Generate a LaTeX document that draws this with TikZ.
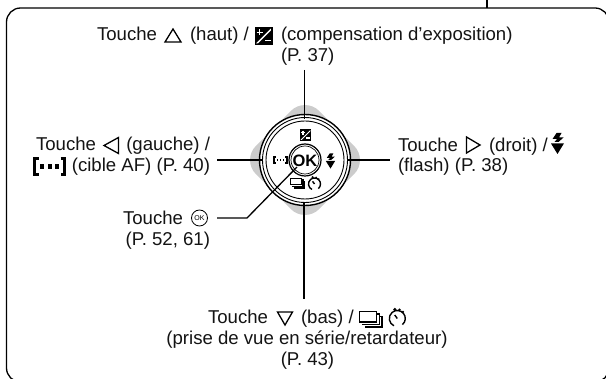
\documentclass[tikz,border=0pt]{standalone}
\usepackage{fontspec}
\setmainfont{Liberation Sans}
\begin{document}
\begin{tikzpicture}[x=1pt,y=-1pt,
  txt/.style={inner sep=0pt,outer sep=0pt,font=\fontsize{18.6}{20}\selectfont,text=black!92},
  lbl/.style={txt,anchor=base west},
  lblr/.style={txt,anchor=base east},
  lblc/.style={txt,anchor=base},
  conn/.style={line width=1.3pt,black},
  tri/.style={line width=1.3pt,draw=black,line join=miter},
  pics/evicon/.style={code={
    \fill[black] (-9,-9) rectangle (9,9);
    \fill[white] (-7.4,7.4) -- (7.4,-7.4) -- (7.4,-5.6) -- (-5.6,7.4) -- cycle;
    \draw[white,line width=1.5pt] (-7,-3.5) -- (-1,-3.5) (-4,-6.5) -- (-4,-0.5) (1.5,4.5) -- (7,4.5);
  }},
  pics/flashicon/.style={code={
    \fill[black] (-1,-10.5) -- (4,-10.5) -- (1.5,-6) -- (6,-6) -- (1,-1.5) -- (-3,-1.5) -- (-.5,-4.5) -- (-5,-4.5) -- cycle;
    \fill[black] (-6.5,0) -- (-1.5,0) -- (-1,0) -- (2,-.2) -- (6.5,-.2) -- (0,10.5) -- cycle;
  }},
  pics/bursticon/.style={code={
    \draw[black,line width=1.1pt,fill=white] (-13.5,-7.5) rectangle (3.5,3);
    \draw[black,line width=1.1pt] (3.5,-5) -- (6.5,-5) -- (6.5,5.5) -- (-11,5.5);
    \draw[black,line width=1.1pt] (6.5,-2.5) -- (9,-2.5) -- (9,8) -- (-8,8);
  }},
  pics/timericon/.style={code={
    \draw[black,line width=1.4pt] (50:8) arc (50:-245:8);
    \draw[black,line width=1.4pt] (0,0) -- (-2.6,-3.5);
    \fill[black] (-2.5,-9) circle (1.8);
    \fill[black] (5.6,-6.6) circle (1.3);
    \fill[black] (2.2,-8.8) circle (1.3);
  }},
  pics/bracketicon/.style={code={
    \draw[black,line width=2.2pt] (-11,-8) -- (-15,-8) -- (-15,8) -- (-11,8);
    \draw[black,line width=2.2pt] (11,-8) -- (15,-8) -- (15,8) -- (11,8);
    \foreach \i in {-7.5,0,7.5} \fill[black] (\i-2,-2.5) rectangle (\i+2,2.5);
  }}
]
\useasboundingbox (0,0) rectangle (606,379);
\fill[white] (0,0) rectangle (606,379);

% frame
\coordinate (tickA) at (487,0);
\coordinate (tickB) at (487,8);
\draw[line width=1.3pt,rounded corners=14pt] (6.5,8) rectangle (609,382);
\draw[conn] (tickA) -- (tickB);

% dial
\coordinate (dial) at (305,160);
\foreach \dx/\dy in {29.3/0,0/-29.3,-29.3/0,0/29.3}
  \fill[black!20,rounded corners=20pt,rotate around={45:(305+\dx,160+\dy)}] (305+\dx-24,160+\dy-24) rectangle (305+\dx+24,160+\dy+24);
\draw[line width=1.4pt,fill=white] (dial) circle (45.5);
\draw[line width=.9pt] (dial) circle (42.5);
\draw[line width=.9pt] (dial) circle (39);
\draw[line width=1.2pt,fill=white] (dial) circle (16);
\draw[line width=.7pt] (dial) circle (14);
\node[inner sep=0pt,font=\fontsize{16.5}{16}\selectfont\bfseries] (oklabel) at (305,160.5) {OK};

\pic[scale=.66] at (305.5,135) {evicon};
\pic[scale=.72] at (330.5,161) {flashicon};
\pic[scale=.42] at (280.5,160) {bracketicon};
\pic[scale=.62] at (299,183) {bursticon};
\pic[scale=.75] at (314.5,184) {timericon};

% connectors
\coordinate (topA) at (304.5,70);
\coordinate (topB) at (304.5,119);
\coordinate (leftA) at (217,160);
\coordinate (leftB) at (262,160);
\coordinate (rightA) at (348,160);
\coordinate (rightB) at (390,160);
\coordinate (botA) at (304,202);
\coordinate (botB) at (304,299);
\coordinate (okA) at (217,218);
\coordinate (okK) at (247,218);
\coordinate (okB) at (297,167);
\draw[conn] (topA) -- (topB);
\draw[conn] (leftA) -- (leftB);
\draw[conn] (rightA) -- (rightB);
\draw[conn] (botA) -- (botB);
\draw[conn] (okA) -- (okK) -- (okB);

% top text
\node[lbl] (t1) at (97,41) {Touche};
\draw[tri] (165,42) -- (173,29) -- (181,42) -- cycle;
\node[lbl] (t2) at (190,41) {(haut) /};
\pic[scale=1] at (263.5,36) {evicon};
\node[lbl] (t3) at (281,41) {(compensation d’exposition)};
\node[lbl] (t4) at (281,62) {(P. 37)};

% left text
\node[lbl] (l1) at (36,151) {Touche};
\draw[tri] (118.5,137.5) -- (104,145.5) -- (118.5,153.5) -- cycle;
\node[lblr] (l2) at (210,151) {(gauche) /};
\pic[scale=1] at (49.5,166.5) {bracketicon};
\node[lblr] (l3) at (210,172) {(cible AF) (P. 40)};

% ok text
\node[lbl] (o1) at (123,225) {Touche};
\draw[line width=.8pt] (199.5,218) circle (8);
\node[inner sep=0pt,font=\fontsize{7}{7}\selectfont] (o2) at (199.5,218) {OK};
\node[lblr] (o3) at (210,246) {(P. 52, 61)};

% right text
\node[lbl] (r1) at (398,152) {Touche};
\draw[tri] (466.5,137) -- (480,145) -- (466.5,153) -- cycle;
\node[lbl] (r2) at (489,152) {(droit) /};
\pic[scale=1] at (557.5,143.5) {flashicon};
\node[lbl] (r3) at (398,172) {(flash) (P. 38)};

% bottom text
\node[lbl] (b1) at (208,324) {Touche};
\draw[tri] (277.5,312) -- (292.5,312) -- (285,325) -- cycle;
\node[lbl] (b2) at (301,324) {(bas) /};
\pic[scale=1] at (373,319) {bursticon};
\pic[scale=1] at (397.3,318.5) {timericon};
\node[lblc] (b3) at (307,345) {(prise de vue en série/retardateur)};
\node[lblc] (b4) at (307.5,366) {(P. 43)};
\end{tikzpicture}
\end{document}
